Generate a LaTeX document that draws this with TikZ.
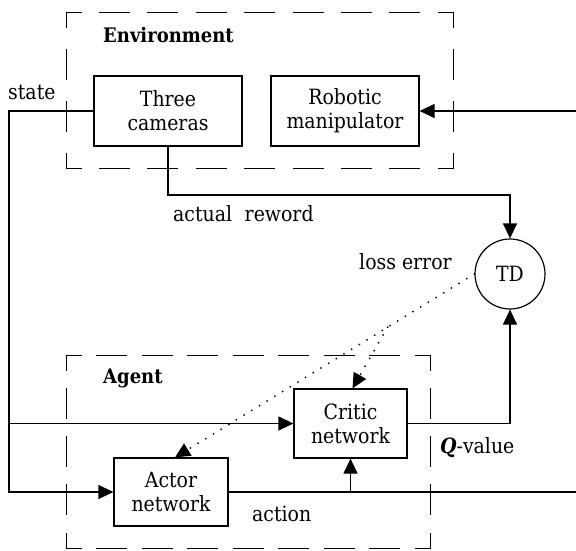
\documentclass[tikz,border=0pt]{standalone}
\usepackage{fontspec}
\setmainfont{DejaVu Serif}[FakeStretch=0.9]
\usetikzlibrary{arrows.meta,calc}
\begin{document}
\begin{tikzpicture}[x=1pt,y=-1pt,
  every node/.style={font=\fontsize{21}{24}\selectfont},
  blk/.style={draw,line width=1.2pt,inner sep=0pt,align=center},
  conn/.style={line width=1.2pt},
  arr/.style={conn,-{Triangle[length=15pt,width=14pt]}},
  dotarr/.style={line width=2pt,line cap=round,dash pattern=on 0pt off 9pt,-{Triangle[length=15pt,width=14pt]}},
  dside/.style={line width=1pt,line cap=rect,dash pattern=on 30pt off #1,dash phase=15pt},
  lbl/.style={inner sep=0pt},
  bold/.style={inner sep=0pt,font=\fontsize{20}{24}\selectfont\bfseries}
]
\useasboundingbox (0,0) rectangle (576,550);

% dashed frames
\draw[dside=18.4pt] (66,12) -- (453,12);
\draw[dside=18.4pt] (66,168) -- (453,168);
\draw[dside=22pt] (66,12) -- (66,168);
\draw[dside=22pt] (453,12) -- (453,168);
\draw[dside=15.5pt] (66,355) -- (430,355);
\draw[dside=15.5pt] (66,548) -- (430,548);
\draw[dside=18.25pt] (66,355) -- (66,548);
\draw[dside=18.25pt] (430,355) -- (430,548);

% blocks
\node[blk,minimum width=148pt,minimum height=70pt] (cam) at (168,111) {Three\\cameras};
\node[blk,minimum width=148pt,minimum height=70pt] (rob) at (345,111) {Robotic\\manipulator};
\node[draw,circle,line width=1.2pt,minimum size=70pt,inner sep=0pt] (td) at (510,274) {TD};
\node[blk,minimum width=113pt,minimum height=69pt] (critic) at (350.5,423.5) {Critic\\network};
\node[blk,minimum width=114pt,minimum height=68pt] (actor) at (171,492) {Actor\\network};

% labels
\node[bold,anchor=west] (envl) at (103,35) {Environment};
\node[bold,anchor=west] (agl) at (103,378) {Agent};
\node[lbl,anchor=base west] (st) at (8,99) {state};
\node[lbl,anchor=base west] (rw) at (173,221) {actual\hspace{0.6em}reword};
\node[lbl,anchor=base west] (le) at (359,269) {loss error};
\node[lbl,anchor=base west] (qv) at (440,453) {{\bfseries\itshape Q}-value};
\node[lbl,anchor=base west] (ac) at (252,521) {action};

% connectors
\coordinate (lft) at (9,300);
\coordinate (rr) at (510,195);
\coordinate (inR) at (576,111);
\coordinate (outR) at (576,492);
\draw[arr] (cam.west) -| (lft) |- (actor.west);
\draw[arr] (lft |- critic.west) -- (critic.west);
\draw[arr] (inR) -- (rob.east);
\draw[arr] (cam.south) |- (rr) -- (td.north);
\draw[arr] (critic.east) -| (td.south);
\draw[conn] (actor.east) -- (outR);
\draw[arr] (critic.south |- actor.east) -- (critic.south);
\draw[dotarr] (td.west) -- coordinate[pos=0.29] (br) ($(actor.north)+(4,0)$);
\draw[dotarr] (br) -- ($(critic.north)+(2,0)$);
\end{tikzpicture}
\end{document}
